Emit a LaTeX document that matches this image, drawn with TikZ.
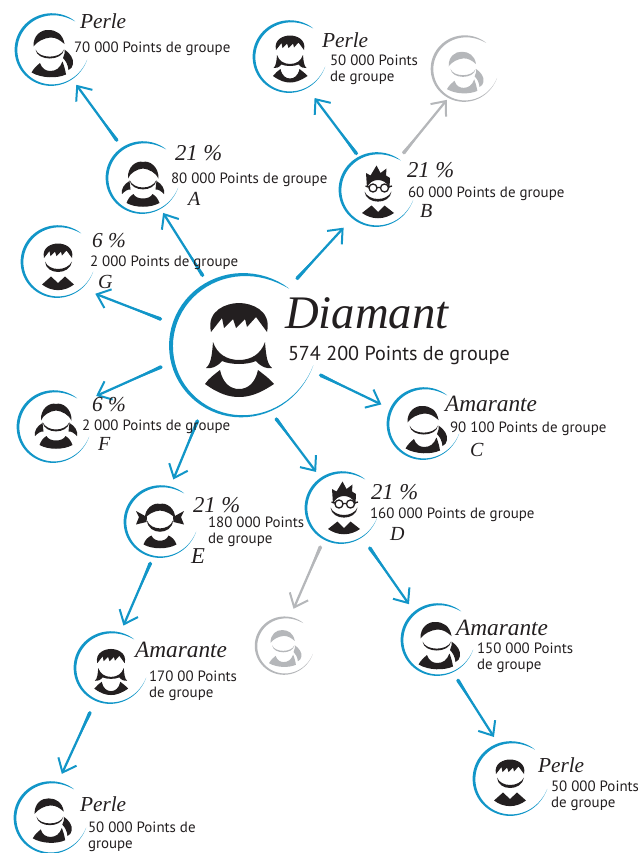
\documentclass[tikz,border=0pt]{standalone}
\usepackage{fontspec}
\setmainfont{PT Sans}
\newfontfamily\hand{Liberation Serif}[ItalicFont={Liberation Serif Italic}]
\usetikzlibrary{arrows.meta,calc}
\definecolor{inkc}{HTML}{231F20}
\definecolor{bluec}{HTML}{1296C8}
\definecolor{greyc}{HTML}{B5B7BA}
\tikzset{
  conn/.style={line width=1.7pt,line cap=round,-{Straight Barb[length=9pt,width=15pt,line width=1.5pt]}},
  txt/.style={anchor=west,inner sep=0pt,outer sep=0pt,align=left,text=inkc,yshift=-1.5pt,font=\fontsize{11.2}{12}\selectfont},
  scr/.style={anchor=west,inner sep=0pt,outer sep=0pt,text=inkc,font=\hand\itshape\fontsize{#1}{#1}\selectfont},
  scr/.default=17
}
\newcommand{\ringat}[5]{%
  \fill[#5] plot[domain=50:345,samples=60,variable=\t] ({#2+(ringf(\t,#4)+ringw(\t,#4)/2)*cos(\t)},{#3-(ringf(\t,#4)+ringw(\t,#4)/2)*sin(\t)})
    -- plot[domain=345:50,samples=60,variable=\t] ({#2+(ringf(\t,#4)-ringw(\t,#4)/2)*cos(\t)},{#3-(ringf(\t,#4)-ringw(\t,#4)/2)*sin(\t)}) -- cycle;
  \node[circle,minimum size={#4*1.5pt},inner sep=0pt,outer sep=0pt] (#1) at (#2,#3) {};
}
\newcommand{\linkto}[7]{%
  \draw[conn,#7,shorten <={#3*0.75pt},shorten >={#6*0.75pt}] (#1.#2) -- (#4.#5);
  \coordinate (brushS) at ($(#1.#2)!{#3*0.75pt}!(#4.#5)$);
  \coordinate (brushM) at ($(brushS)!0.6!(#4.#5)$);
  \fill[#7] ($(brushS)!1.35pt!90:(brushM)$) -- (brushM) -- ($(brushS)!1.35pt!-90:(brushM)$) -- cycle;
  \fill[#7] (brushS) circle[radius=1.35pt];
}
\newcommand{\faceC}{\fill (-27,-8) .. controls (-18,12) and (18,12) .. (27,-8) .. controls (24,17) and (-24,17) .. cycle;}
\newcommand{\fringeH}{\fill (-28,-18) .. controls (-33,-40) and (-12,-47) .. (0,-47) .. controls (12,-47) and (33,-40) .. (28,-18) -- (17,-33) -- (8,-23) -- (6,-31) -- (-3,-22) -- (-6,-31) -- (-15,-22) -- (-17,-32) -- cycle;}
\newcommand{\iconFringe}[4]{\begin{scope}[shift={(#1,#2)},scale=#3,#4]
  \fringeH
  \fill (-26,-8) .. controls (-27,5) and (-28,14) .. (-33,18) .. controls (-28,19) and (-22,17) .. (-17,11) .. controls (-8,15) and (8,15) .. (17,11) .. controls (22,17) and (28,19) .. (33,18) .. controls (28,14) and (27,5) .. (26,-8) .. controls (22,4) and (12,10) .. (0,10) .. controls (-12,10) and (-22,4) .. cycle;
  \fill (-34,34) .. controls (-30,28) and (-24,24) .. (-19,20) .. controls (-16,34) and (-8,39) .. (0,39) .. controls (8,39) and (16,34) .. (19,20) .. controls (24,24) and (30,28) .. (35,34) .. controls (20,44) and (10,47) .. (0,47) .. controls (-10,47) and (-20,44) .. cycle;
\end{scope}}
\newcommand{\iconBoy}[4]{\begin{scope}[shift={(#1,#2)},scale=#3,#4]
  \fringeH
  \fill (-26,-11) .. controls (-18,9) and (18,9) .. (28,-11) .. controls (24,17) and (-24,17) .. cycle;
  \fill (-32,35) -- (-14,19) -- (0,32) -- (14,19) -- (32,35) .. controls (12,50) and (-12,50) .. cycle;
\end{scope}}
\newcommand{\iconTails}[4]{\begin{scope}[shift={(#1,#2)},scale=#3,#4]
  \fill (-30,-11) .. controls (-32,-35) and (-12,-48) .. (0,-44) .. controls (12,-48) and (32,-35) .. (31,-11) .. controls (26,-22) and (12,-30) .. (0,-31) .. controls (-12,-30) and (-26,-22) .. cycle;
  \fill (-27,-6) .. controls (-38,0) and (-44,10) .. (-42,20) .. controls (-36,14) and (-30,10) .. (-25,11) .. controls (-26,3) and (-26,-1) .. cycle;
  \fill (27,-6) .. controls (38,0) and (44,10) .. (42,20) .. controls (36,14) and (30,10) .. (25,11) .. controls (26,3) and (26,-1) .. cycle;
  \faceC
  \fill (-33,38) .. controls (-30,30) and (-26,24) .. (-19,20) .. controls (-14,32) and (14,32) .. (19,20) .. controls (26,24) and (30,30) .. (33,38) .. controls (15,48) and (-15,48) .. cycle;
\end{scope}}
\newcommand{\iconPony}[4]{\begin{scope}[shift={(#1,#2)},scale=#3,#4]
  \fill (-37,-13) .. controls (-38,-35) and (-22,-47) .. (-7,-46) .. controls (8,-46) and (22,-38) .. (25,-18) .. controls (16,-26) and (8,-31) .. (-3,-31) .. controls (-16,-30) and (-30,-23) .. cycle;
  \fill (25,-7) .. controls (36,0) and (44,12) .. (42,22) .. controls (41,28) and (38,32) .. (33,34) .. controls (32,24) and (28,16) .. (22,10) .. controls (25,4) and (26,-2) .. cycle;
  \fill (-33,-7) .. controls (-26,12) and (17,12) .. (24,-7) .. controls (21,17) and (-30,17) .. cycle;
  \fill (-41,39) .. controls (-36,30) and (-30,25) .. (-24,20) .. controls (-20,32) and (-12,36) .. (-3,36) .. controls (8,36) and (16,30) .. (21,17) .. controls (24,25) and (27,35) .. (28,43) .. controls (10,51) and (-20,51) .. cycle;
\end{scope}}
\newcommand{\iconBows}[4]{\begin{scope}[shift={(#1,#2)},scale=#3,#4]
  \fill (-30,-14) .. controls (-32,-35) and (-12,-48) .. (0,-44) .. controls (12,-48) and (32,-35) .. (30,-14) .. controls (26,-23) and (12,-30) .. (0,-31) .. controls (-12,-30) and (-26,-23) .. cycle;
  \fill (-26,-18) -- (-48,-30) -- (-42,-18) -- (-48,-3) -- (-27,-8) -- cycle;
  \fill (26,-18) -- (48,-30) -- (42,-18) -- (48,-3) -- (27,-8) -- cycle;
  \fill (-26,-11) .. controls (-18,10) and (18,10) .. (26,-11) .. controls (24,19) and (-24,19) .. cycle;
  \fill (-33,37) .. controls (-30,28) and (-24,22) .. (-17,19) .. controls (-12,33) and (12,33) .. (17,19) .. controls (24,22) and (30,28) .. (33,37) .. controls (15,47) and (-15,47) .. cycle;
\end{scope}}
\newcommand{\iconGlasses}[4]{\begin{scope}[shift={(#1,#2)},scale=#3,#4]
  \fill (-22,-8) -- (-24,-38) -- (-15,-33) -- (-3,-53) -- (5,-38) -- (17,-47) -- (16,-33) -- (24,-28) -- (23,-8) .. controls (18,-20) and (8,-24) .. (0,-24) .. controls (-8,-24) and (-18,-20) .. cycle;
  \draw[line width=1pt] (-10,-8) circle (8) (13,-8) circle (8) (-2,-9) -- (5,-9) (-18,-10) -- (-25,-12) (21,-10) -- (28,-12);
  \fill (-27,-1) .. controls (-18,19) and (18,19) .. (27,-1) .. controls (24,26) and (-24,26) .. cycle;
  \fill (-32,42) -- (-13,27) -- (0,40) -- (13,27) -- (32,42) .. controls (12,56) and (-12,56) .. cycle;
\end{scope}}
\begin{document}
\begin{tikzpicture}[x=0.75pt,y=-0.75pt,
  declare function={
    ringu(\a)=(\a-50)/295;
    ringw(\a,\R)=(1.6+0.035*\R)*abs(sin(180*(max(ringu(\a),0.0001)^0.65)));
    ringf(\a,\R)=\R*(1+0.07*((2*ringu(\a)-1)*(2*ringu(\a)-1))^2);
  }]
\useasboundingbox (0,0) rectangle (638,853);
% rings (named nodes)
\ringat{perleA}{51}{50}{35}{bluec}
\ringat{perleB}{289}{57}{35}{bluec}
\ringat{ghostA}{464}{69}{32}{greyc}
\ringat{userA}{142}{178}{35}{bluec}
\ringat{userB}{376}{190}{36}{bluec}
\ringat{userG}{57}{262}{35}{bluec}
\ringat{dia}{241}{346}{70}{bluec}
\ringat{userF}{53}{427}{35}{bluec}
\ringat{userC}{423}{424}{35}{bluec}
\ringat{userE}{160}{522}{35}{bluec}
\ringat{userD}{341}{508}{35}{bluec}
\ringat{ghostB}{284}{646}{28}{greyc}
\ringat{amaA}{110}{668}{35}{bluec}
\ringat{amaB}{437}{640}{35}{bluec}
\ringat{perleC}{510}{779}{36}{bluec}
\ringat{perleD}{50}{818}{35}{bluec}
% icons
\iconPony{52}{53}{.5}{inkc}
\iconFringe{290}{59}{.5}{inkc}
\iconPony{465}{72}{.44}{greyc}
\iconTails{143}{184}{.5}{inkc}
\iconGlasses{378}{192}{.5}{inkc}
\iconBoy{58}{267}{.5}{inkc}
\iconFringe{239}{350}{1}{inkc}
\iconTails{56}{426}{.5}{inkc}
\iconPony{426}{429}{.5}{inkc}
\iconBows{160}{526}{.5}{inkc}
\iconGlasses{344}{508}{.5}{inkc}
\iconPony{285}{648}{.39}{greyc}
\iconFringe{111}{672}{.49}{inkc}
\iconPony{439}{645}{.5}{inkc}
\iconBoy{510}{783}{.5}{inkc}
\iconPony{52}{820}{.47}{inkc}
% connectors
\linkto{userA}{123.3}{10.5}{perleA}{-54.5}{8}{bluec}
\linkto{userB}{117}{5.6}{perleB}{-60}{13.4}{bluec}
\linkto{userB}{54.6}{10.6}{ghostA}{-118.7}{3.4}{greyc}
\linkto{dia}{118.2}{10.5}{userA}{-59}{5.8}{bluec}
\linkto{dia}{51.4}{18}{userB}{230}{13.7}{bluec}
\linkto{dia}{162.2}{15}{userG}{-48}{16}{bluec}
\linkto{dia}{193.2}{13}{userF}{42}{18.8}{bluec}
\linkto{dia}{-19.9}{15}{userC}{155.7}{11}{bluec}
\linkto{dia}{238.1}{17}{userE}{74.4}{9.6}{bluec}
\linkto{dia}{-66.9}{11.5}{userD}{124.8}{8.8}{bluec}
\linkto{userD}{241.7}{9.3}{ghostB}{79.6}{10.6}{greyc}
\linkto{userD}{-54}{14.4}{amaB}{129.6}{10.5}{bluec}
\linkto{userE}{259.2}{7.8}{amaA}{74.4}{9.6}{bluec}
\linkto{amaA}{246}{14.2}{perleD}{78.7}{10.9}{bluec}
\linkto{amaB}{-64}{10.6}{perleC}{108}{9.2}{bluec}
% labels
\node[scr=35] (tDia) at (285,313) {Diamant};
\node[txt,font=\fontsize{15.1}{17}\selectfont] (tDiaP) at (288,353) {574 200 Points de groupe};
\node[scr=16] (t1a) at (80,21) {Perle};
\node[txt] (t1b) at (74,47) {70 000 Points de groupe};
\node[scr=16] (t2a) at (322,40) {Perle};
\node[txt] (t2b) at (330,68) {50 000 Points\\de groupe};
\node[scr=17] (t3a) at (175,153) {21 \%};
\node[txt] (t3b) at (171,178) {80 000 Points de groupe};
\node[scr=15] (t3c) at (188,199) {A};
\node[scr=17] (t4a) at (407,170) {21 \%};
\node[txt] (t4b) at (408,192) {60 000 Points de groupe};
\node[scr=15] (t4c) at (420,211) {B};
\node[scr=16] (t5a) at (92,241) {6 \%};
\node[txt] (t5b) at (90,261) {2 000 Points de groupe};
\node[scr=15] (t5c) at (98,282) {G};
\node[scr=16] (t6a) at (92,405) {6 \%};
\node[txt] (t6b) at (82,425) {2 000 Points de groupe};
\node[scr=15] (t6c) at (98,444) {F};
\node[scr=17.5] (t7a) at (445,404) {Amarante};
\node[txt] (t7b) at (450,427) {90 100 Points de groupe};
\node[scr=15] (t7c) at (470,450) {C};
\node[scr=17] (t8a) at (193,505) {21 \%};
\node[txt] (t8b) at (208,530) {180 000 Points\\de groupe};
\node[scr=17] (t8c) at (191,556) {E};
\node[scr=17] (t9a) at (371,492) {21 \%};
\node[txt] (t9b) at (370,513) {160 000 Points de groupe};
\node[scr=15] (t9c) at (390,534) {D};
\node[scr=17.5] (t10a) at (135,650) {Amarante};
\node[txt] (t10b) at (149,684) {170 00 Points\\de groupe};
\node[scr=17.5] (t11a) at (456,628) {Amarante};
\node[txt] (t11b) at (477,656) {150 000 Points\\de groupe};
\node[scr=16] (t12a) at (538,765) {Perle};
\node[txt] (t12b) at (551,794) {50 000 Points\\de groupe};
\node[scr=16] (t13a) at (80,804) {Perle};
\node[txt] (t13b) at (88,835) {50 000 Points de\\groupe};
\end{tikzpicture}
\end{document}
